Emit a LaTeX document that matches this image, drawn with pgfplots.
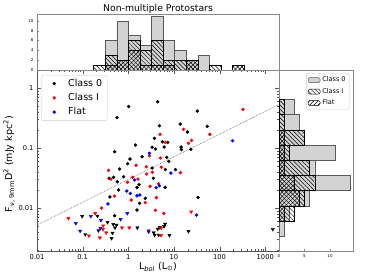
\documentclass[border=0pt]{standalone}
\usepackage{pgfplots}
\pgfplotsset{compat=1.18}
\usepackage{fontspec}
\setmainfont{DejaVu Sans}
\usetikzlibrary{patterns,patterns.meta}
\definecolor{lgray}{HTML}{D3D3D3}
\definecolor{mframe}{HTML}{555555}
\definecolor{hframe}{HTML}{888888}
\pgfplotsset{myarea/.style={legend image code/.code={\draw[##1] (0pt,-2.5pt) rectangle (12pt,2.5pt);}}}
\begin{document}
\begin{tikzpicture}[x=1pt,y=1pt]
\useasboundingbox (0,0) rectangle (372,279);
% ---------------- main scatter ----------------
\begin{loglogaxis}[
  at={(37pt,28pt)}, anchor=south west, scale only axis,
  width=242pt, height=181pt,
  xmin=0.01, xmax=2000, ymin=0.00192, ymax=2.0,
  log ticks with fixed point,
  /pgf/number format/1000 sep={},
  /pgf/number format/assume math mode=true,
  ticklabel style={font=\fontsize{6.7}{8}\selectfont},
  axis line style={mframe}, tick style={mframe},
  major tick length=4pt, minor tick length=2pt,
  xlabel={L\textsubscript{\textit{bol}} (L\textsubscript{⊙})},
  ylabel={F\textsubscript{ν, 9mm}D\textsuperscript{2} (mJy kpc\textsuperscript{2})},
  label style={font=\fontsize{9.5}{11}\selectfont},
  xlabel style={at={(axis description cs:0.5,-0.088)}, anchor=center},
  ylabel style={at={(axis description cs:-0.115,0.48)}, anchor=center},
  legend style={at={(0.0165,0.972)}, anchor=north west,
    font=\fontsize{9.5}{11}\selectfont, draw=gray!40, rounded corners=2pt,
    row sep=1.5pt},
  legend cell align=left,
  legend image code/.code={\path[draw=none,fill=none] (0pt,0pt) -- (22pt,0pt); \path[#1,draw=none] plot[mark=*] coordinates {(10pt,0pt)};},
]
\addplot[only marks, mark=*, mark size=1.5pt, black] coordinates {
(0.565,0.322) (1.02,0.492) (4.41,0.591) (32.4,0.414) (0.500,0.0868) (4.80,0.235)
(13.7,0.251) (19.8,0.185) (3.73,0.145) (5.59,0.127) (7.31,0.124) (1.43,0.112)
(6.09,0.104) (14.3,0.104) (14.6,0.0944) (3.32,0.103) (3.92,0.0962) (23.4,0.0952)
(2.00,0.0716) (6.95,0.070) (1.09,0.0656) (0.965,0.0548) (7.69,0.060) (3.32,0.0464)
(6.50,0.0438) (10.8,0.0438) (53.7,0.230) (0.644,0.0447) (0.382,0.0313) (0.475,0.0325)
(0.573,0.0274) (0.788,0.0332) (0.612,0.020) (0.396,0.0153) (0.500,0.00744) (3.54,0.0313)
(6.41,0.0221) (1.72,0.0245) (1.55,0.0220) (2.36,0.0145) (33.7,0.0150) (1.77,0.0120)
(1.55,0.00926)};
\addlegendentry{Class 0}
\addplot[only marks, mark=*, mark size=1.5pt, red] coordinates {
(16.2,0.205) (4.97,0.169) (6.50,0.124) (24.3,0.134) (20.8,0.120) (2.90,0.0744)
(5.05,0.0681) (1.48,0.0515) (2.49,0.0488) (5.31,0.0477) (325,0.442) (61.2,0.169)
(0.369,0.0425) (0.417,0.0304) (0.965,0.0268) (0.500,0.0158) (0.259,0.0100) (13.9,0.0388)
(3.37,0.0394) (2.53,0.0369) (1.24,0.0325) (1.63,0.0304) (4.63,0.0254) (3.00,0.0230)
(4.12,0.0149) (1.16,0.0136) (2.36,0.0123) (3.92,0.00916) (5.97,0.00816)};
\addlegendentry{Class I}
\addplot[only marks, mark=*, mark size=1.5pt, blue] coordinates {
(2.90,0.0816) (193,0.132) (0.927,0.0192) (1.11,0.0175) (0.358,0.0117) (8.59,0.0383)
(1.38,0.0293) (4.06,0.0218) (4.80,0.0235) (1.55,0.0160) (1.79,0.0165) (31.2,0.00764)};
\addlegendentry{Flat}
\addplot[forget plot, only marks, mark=triangle*, mark size=1.9pt, mark options={rotate=180}, black] coordinates {
(0.0975,0.00727) (0.211,0.00736) (0.351,0.00578) (0.468,0.00535) (0.553,0.00521)
(0.510,0.00470) (0.222,0.00422) (0.452,0.00383) (0.114,0.00362) (0.430,0.00313)
(1.58,0.00470) (6.41,0.00541) (6.09,0.00495) (4.88,0.00477) (4.41,0.00447)
(3.60,0.00388) (3.78,0.00355) (4.63,0.00355) (7.96,0.00351) (20.8,0.00409) (1462,0.00443)};
\addplot[forget plot, only marks, mark=triangle*, mark size=1.9pt, mark options={rotate=180}, red] coordinates {
(0.0488,0.00674) (0.188,0.00816) (0.282,0.00507) (0.278,0.00442) (0.328,0.00388)
(0.137,0.00345) (0.239,0.00320) (0.727,0.00470) (1.05,0.00470) (2.79,0.00419)
(5.23,0.00464) (5.23,0.00351) (23.9,0.00868)};
\addplot[forget plot, only marks, mark=triangle*, mark size=1.9pt, mark options={rotate=180}, blue] coordinates {
(0.151,0.00727) (0.0709,0.00556) (0.251,0.00624) (0.0881,0.00414) (0.246,0.00459)
(2.79,0.00403) (0.677,0.00648) (0.951,0.00816)};
\addplot[forget plot, densely dotted, gray!70!black, line width=0.6pt] coordinates {(0.01,0.00521) (2000,0.532)};
\end{loglogaxis}
% ---------------- top histogram ----------------
\begin{axis}[
  at={(37pt,209pt)}, anchor=south west, scale only axis,
  width=242pt, height=56pt,
  xmin=-2, xmax=3.301, ymin=0, ymax=11.4,
  xtick=\empty, ytick={0,2,4,6,8,10}, ytick pos=left,
  tick align=inside, major tick length=2pt,
  /pgf/number format/assume math mode=true,
  yticklabel style={font=\fontsize{4}{5}\selectfont},
  axis line style={hframe}, tick style={hframe},
  title={Non-multiple Protostars},
  title style={font=\fontsize{9.3}{11}\selectfont, at={(0.5,1)}, anchor=base, yshift=-3.5pt},
]
\addplot[ybar, bar width=0.2535, bar shift=0pt, fill=lgray, draw=gray!70!black] coordinates {
(-0.380,6) (-0.126,10) (0.127,7) (0.381,5) (0.634,11) (0.888,6) (1.141,4) (1.395,2) (1.648,3)};
\addplot[ybar, bar width=0.2535, bar shift=0pt, draw=black, pattern={Lines[angle=-45,distance=3pt,line width=0.5pt]}] coordinates {
(-0.633,1) (-0.380,3) (-0.126,2) (0.127,6) (0.381,4) (0.634,6) (0.888,2) (1.141,2) (1.395,2) (1.902,1) (2.409,1)};
\addplot[ybar, bar width=0.2535, bar shift=0pt, draw=black, pattern={Lines[angle=45,distance=3pt,line width=0.5pt]}] coordinates {
(-0.380,1) (-0.126,2) (0.127,4) (0.381,1) (0.634,1) (0.888,1) (1.395,2) (2.409,1)};
\end{axis}
% ---------------- right histogram ----------------
\begin{axis}[
  at={(279pt,28pt)}, anchor=south west, scale only axis,
  width=74pt, height=181pt,
  xmin=0, xmax=14.5, ymin=-2.717, ymax=0.301,
  ytick=\empty, xtick={0,5,10}, xtick pos=left,
  tick align=inside, major tick length=2pt,
  /pgf/number format/assume math mode=true,
  xticklabel style={font=\fontsize{4}{5}\selectfont},
  axis line style={hframe}, tick style={hframe},
  legend style={at={(0.95,0.982)}, anchor=north east,
    font=\fontsize{6.5}{7.5}\selectfont, draw=gray!40, rounded corners=1.5pt,
    row sep=1pt, inner sep=1.5pt},
  legend cell align=left,
]
\addplot[xbar, bar width=0.2533, bar shift=0pt, fill=lgray, draw=gray!70!black, myarea] coordinates {
(1,-2.343) (2,-2.090) (6,-1.837) (14,-1.583) (7,-1.330) (11,-1.077) (5,-0.823) (4,-0.570) (3,-0.317)};
\addlegendentry{Class 0}
\addplot[xbar, bar width=0.2533, bar shift=0pt, draw=black, pattern={Lines[angle=-45,distance=3pt,line width=0.5pt]}, myarea] coordinates {
(3,-2.090) (5,-1.837) (7,-1.583) (6,-1.330) (2,-1.077) (5,-0.823) (1,-0.570) (1,-0.317)};
\addlegendentry{Class I}
\addplot[xbar, bar width=0.2533, bar shift=0pt, draw=black, pattern={Lines[angle=45,distance=3pt,line width=0.5pt]}, myarea] coordinates {
(1,-2.090) (4,-1.837) (3,-1.583) (1,-1.330) (1,-1.077) (1,-0.823)};
\addlegendentry{Flat}
\end{axis}
\end{tikzpicture}
\end{document}
